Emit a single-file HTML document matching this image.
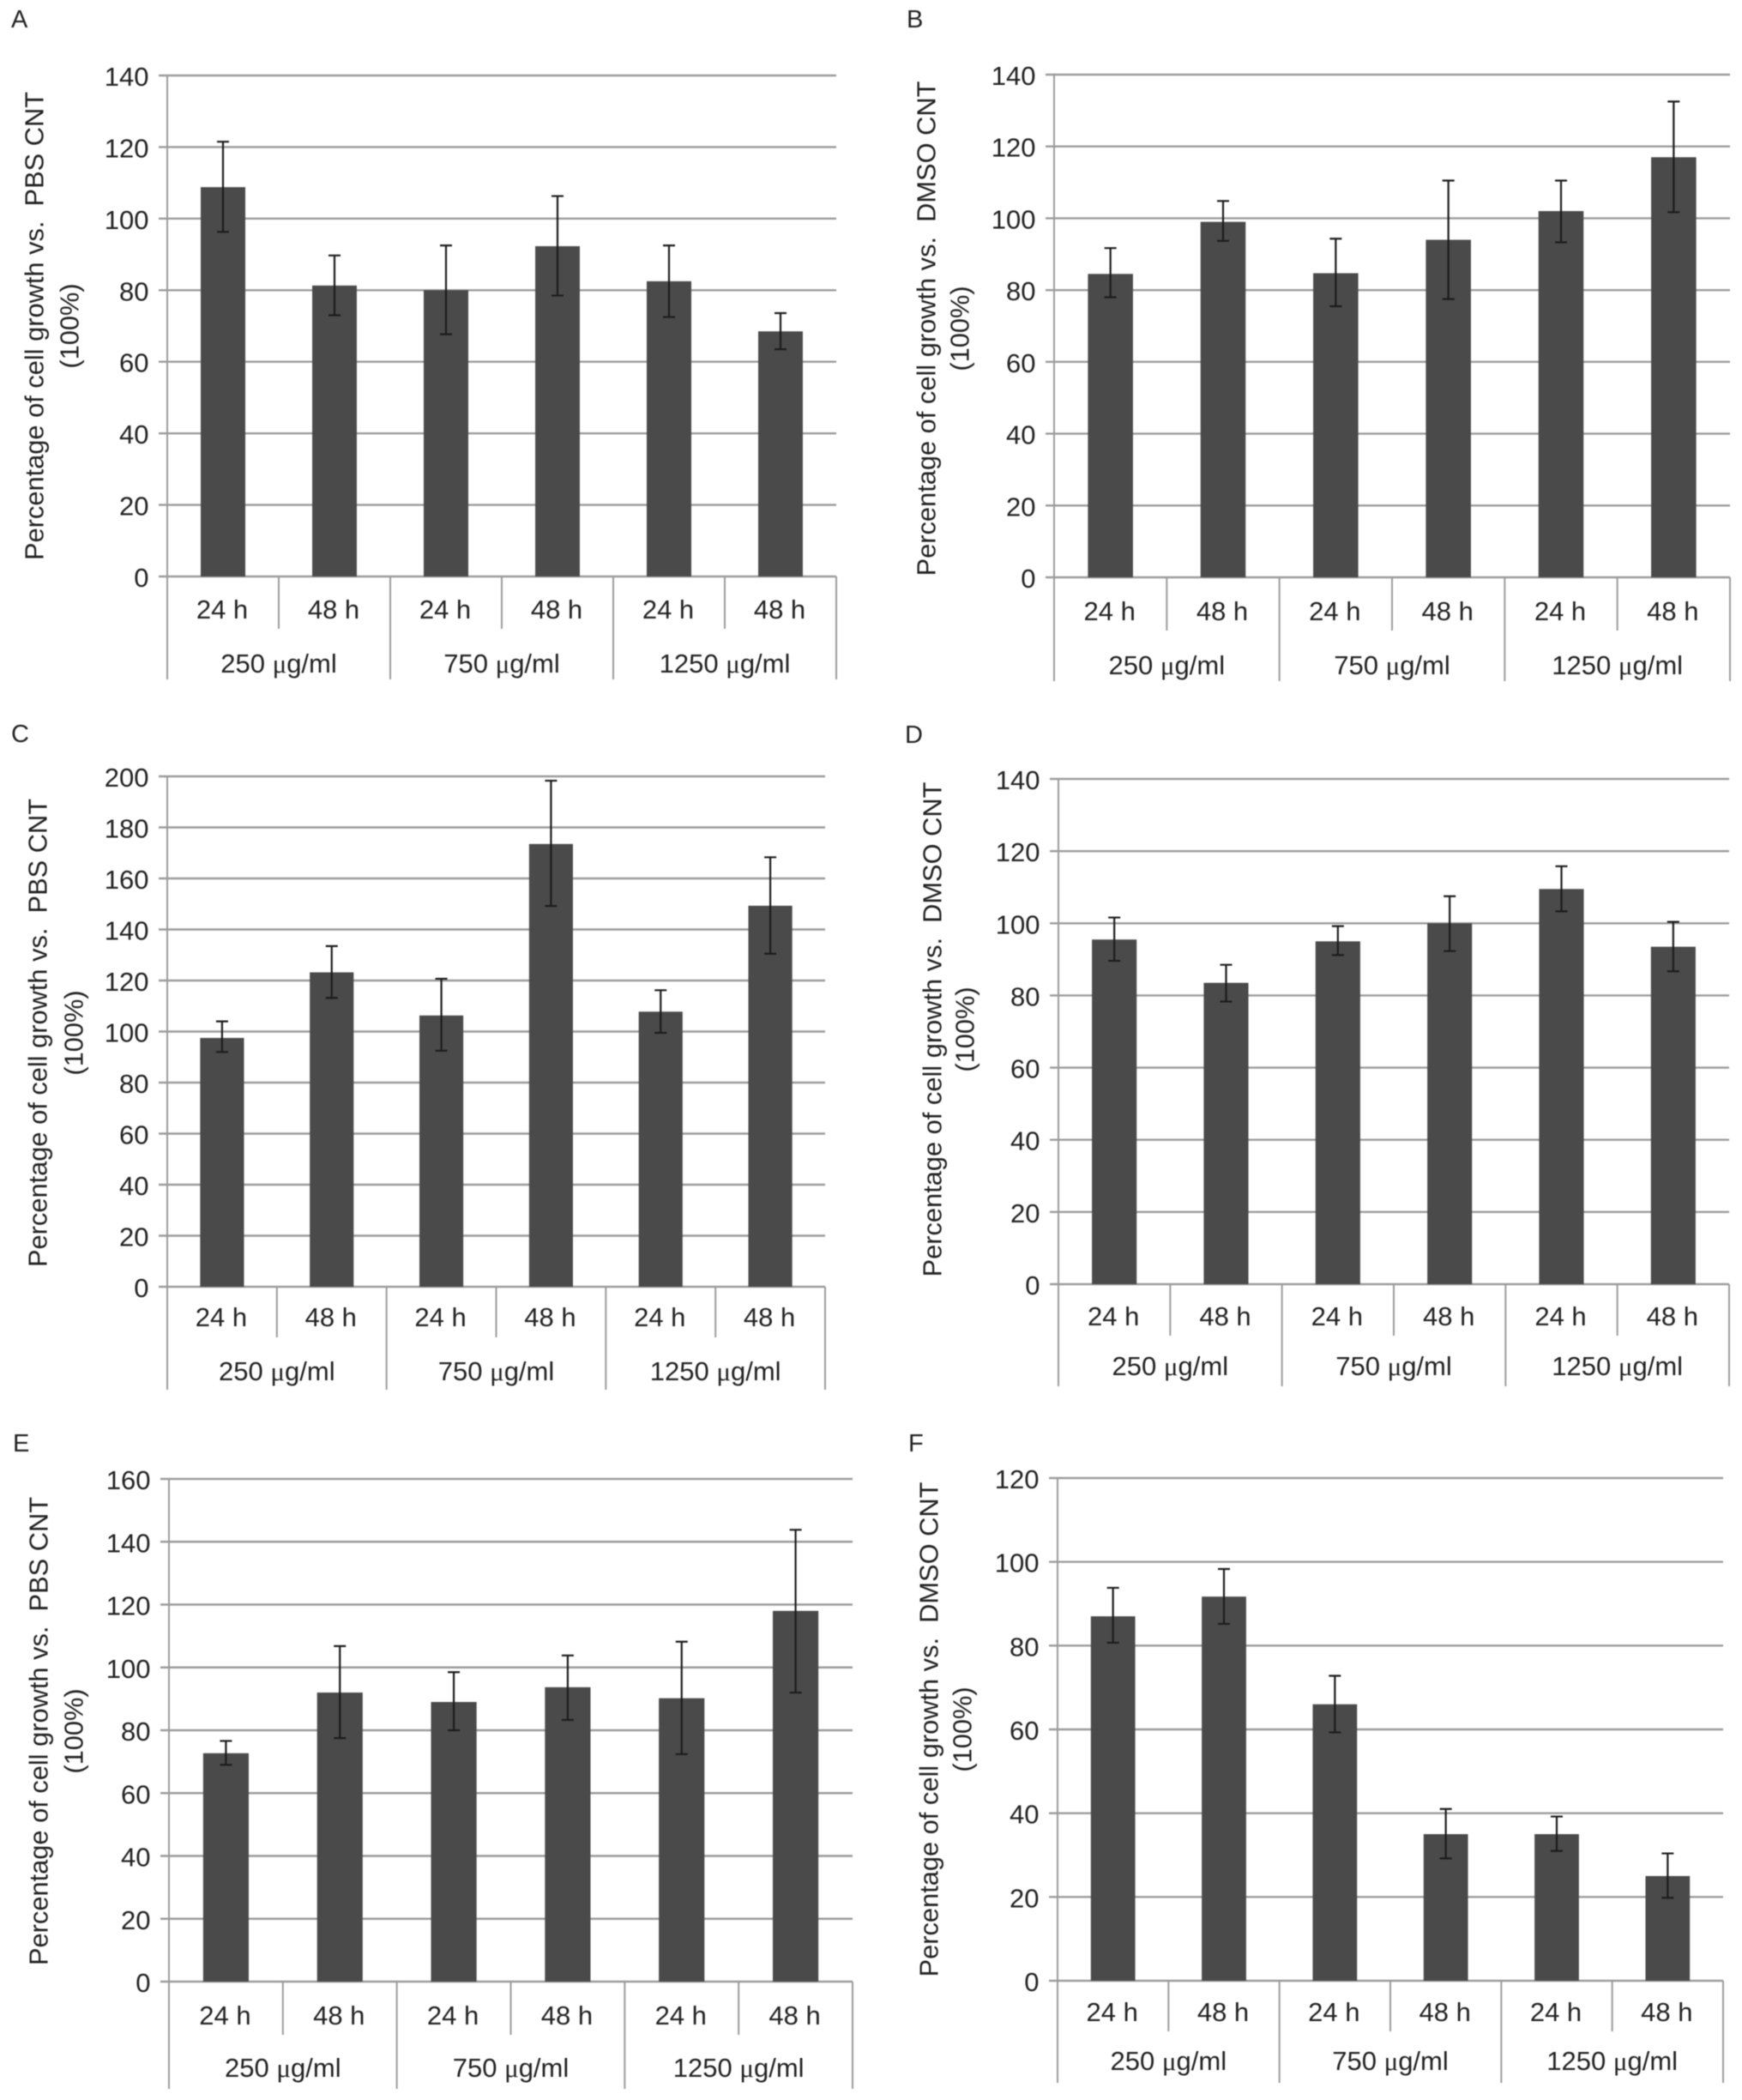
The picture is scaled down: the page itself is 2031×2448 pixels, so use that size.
<!DOCTYPE html>
<html lang="en">
<head>
<meta charset="utf-8">
<title>Cell growth bar charts, panels A to F</title>
<style>
html,body{margin:0;padding:0;background:#fff;}
svg{display:block;filter:blur(0.6px);}
text{font-family:"Liberation Sans",sans-serif;fill:#222222;}
</style>
</head>
<body>
<svg id="figure" xmlns="http://www.w3.org/2000/svg" width="2031" height="2448" viewBox="0 0 2031 2448">
<rect x="0" y="0" width="2031" height="2448" fill="#ffffff"/>
</svg>
<script>
const timeLabels = ['24 h', '48 h', '24 h', '48 h', '24 h', '48 h'];
const doseLabels = ['250 ', '750 ', '1250 '];

const ticksA = [0, 20, 40, 60, 80, 100, 120, 140];
const valuesA = [108.8, 81.3, 80, 92.3, 82.5, 68.5];
const upperA = [121.5, 89.7, 92.5, 106.3, 92.5, 73.6];
const lowerA = [96.3, 73, 67.7, 78.5, 72.5, 63.5];

const ticksB = [0, 20, 40, 60, 80, 100, 120, 140];
const valuesB = [84.5, 99, 84.7, 94, 102, 117];
const upperB = [91.7, 104.8, 94.3, 110.5, 110.5, 132.5];
const lowerB = [78, 93.7, 75.5, 77.5, 93.3, 101.7];

const ticksC = [0, 20, 40, 60, 80, 100, 120, 140, 160, 180, 200];
const valuesC = [97.5, 123.2, 106.3, 173.5, 107.8, 149.3];
const upperC = [104, 133.5, 120.7, 198.3, 116.2, 168.3];
const lowerC = [92, 113.2, 92.5, 149.2, 99.5, 130.5];

const ticksD = [0, 20, 40, 60, 80, 100, 120, 140];
const valuesD = [95.5, 83.5, 95, 100, 109.5, 93.5];
const upperD = [101.6, 88.5, 99.2, 107.5, 115.8, 100.4];
const lowerD = [89.6, 78.3, 91.2, 92.3, 103.3, 86.7];

const ticksE = [0, 20, 40, 60, 80, 100, 120, 140, 160];
const valuesE = [72.7, 92, 89, 93.7, 90.2, 118];
const upperE = [76.6, 106.8, 98.5, 103.8, 108.2, 143.8];
const lowerE = [69, 77.5, 80, 83.3, 72.4, 92];

const ticksF = [0, 20, 40, 60, 80, 100, 120];
const valuesF = [87, 91.7, 66, 35, 35, 25];
const upperF = [93.8, 98.3, 72.8, 41, 39.2, 30.4];
const lowerF = [80.7, 85.2, 59.3, 29.2, 31, 19.8];

const titlePBS = 'Percentage of cell growth vs.\u00a0 PBS CNT';
const titleDMSO = 'Percentage of cell growth vs.\u00a0 DMSO CNT';
const titleUnit = '(100%)';

const panels = [
  {id:'a', label:'A', ticks:ticksA, values:valuesA, upper:upperA, lower:lowerA, title:titlePBS,
   frame:{left:195,right:975,top:88,bottom:672,inner:733,outer:792,timeY:721,doseY:784,t1:40,t2:81,tc:380,lx:13,ly:32}},
  {id:'b', label:'B', ticks:ticksB, values:valuesB, upper:upperB, lower:lowerB, title:titleDMSO,
   frame:{left:1229,right:2017,top:87,bottom:673,inner:735,outer:794,timeY:723,doseY:786,t1:1080,t2:1119,tc:383,lx:1057,ly:32}},
  {id:'c', label:'C', ticks:ticksC, values:valuesC, upper:upperC, lower:lowerC, title:titlePBS,
   frame:{left:195,right:962,top:905,bottom:1500,inner:1559,outer:1620,timeY:1546,doseY:1609,t1:44,t2:86,tc:1204,lx:13,ly:865}},
  {id:'d', label:'D', ticks:ticksD, values:valuesD, upper:upperD, lower:lowerD, title:titleDMSO,
   frame:{left:1234,right:2016,top:908,bottom:1497,inner:1557,outer:1616,timeY:1545,doseY:1603,t1:1087,t2:1125,tc:1200,lx:1055,ly:866}},
  {id:'e', label:'E', ticks:ticksE, values:valuesE, upper:upperE, lower:lowerE, title:titlePBS,
   frame:{left:197,right:994,top:1724,bottom:2310,inner:2372,outer:2435,timeY:2360,doseY:2421,t1:45,t2:86,tc:2018,lx:15,ly:1692}},
  {id:'f', label:'F', ticks:ticksF, values:valuesF, upper:upperF, lower:lowerF, title:titleDMSO,
   frame:{left:1233,right:2009,top:1723,bottom:2309,inner:2368,outer:2428,timeY:2356,doseY:2413,t1:1083,t2:1122,tc:2016,lx:1059,ly:1692}}
];

const NS = 'http://www.w3.org/2000/svg';
const figure = document.getElementById('figure');

function make(tag, parent, attrs, text) {
  const el = document.createElementNS(NS, tag);
  for (const k in attrs) el.setAttribute(k, attrs[k]);
  if (text !== undefined) el.textContent = text;
  parent.appendChild(el);
  return el;
}

function drawPanel(p) {
  const f = p.frame;
  const maxTick = p.ticks[p.ticks.length - 1];
  const yScale = v => f.bottom - (v / maxTick) * (f.bottom - f.top);
  const catWidth = (f.right - f.left) / p.values.length;
  const xScale = i => f.left + catWidth * (i + 0.5);
  const barWidth = catWidth * 0.4;

  const g = make('g', figure, {});
  
  

  const letter = make('text', g, {x:f.lx, y:f.ly, 'font-size':29}, p.label);
  
  

  p.ticks.forEach(t => {
    const y = yScale(t);
    const line = make('line', g, {x1:f.left - 10, x2:f.right, y1:y, y2:y, stroke:'#9b9b9b', 'stroke-width':2.4});
    
    
    const label = make('text', g, {x:f.left - 21.5, y:y + 12, 'font-size':31, 'text-anchor':'end'}, String(t));
    
    
  });

  const axis = make('line', g, {x1:f.left, x2:f.left, y1:f.top, y2:f.outer, stroke:'#9b9b9b', 'stroke-width':2});
  
  

  p.values.forEach((v, i) => {
    const divider = make('line', g, {
      x1:f.left + catWidth * (i + 1), x2:f.left + catWidth * (i + 1),
      y1:f.bottom,
      y2:(i % 2 === 1) ? f.outer : f.inner,
      stroke:'#9b9b9b', 'stroke-width':2
    });
    
    

    const bar = make('rect', g, {x:xScale(i) - barWidth / 2, y:yScale(v), width:barWidth, height:f.bottom - yScale(v), fill:'#4a4a4a'});
    
    

    const err = make('path', g, {
      d:'M' + (xScale(i) - 7) + ' ' + yScale(p.upper[i]) + 'H' + (xScale(i) + 7) +
        'M' + xScale(i) + ' ' + yScale(p.upper[i]) + 'V' + yScale(p.lower[i]) +
        'M' + (xScale(i) - 7) + ' ' + yScale(p.lower[i]) + 'H' + (xScale(i) + 7),
      stroke:'#1c1c1c', 'stroke-width':2.2, fill:'none'
    });
    
    

    const time = make('text', g, {x:xScale(i) - 1, y:f.timeY, 'font-size':31, 'text-anchor':'middle'}, timeLabels[i]);
    
    
  });

  doseLabels.forEach((d, i) => {
    const dose = make('text', g, {x:f.left + catWidth * (2 * i + 1), y:f.doseY, 'font-size':31, 'text-anchor':'middle'}, d);
    
    
    make('tspan', dose, {'font-family':'"Liberation Serif",serif'}, '\u03bc');
    make('tspan', dose, {}, 'g/ml');
  });

  const t1 = make('text', g, {x:f.t1, y:f.tc, 'font-size':30.8, 'text-anchor':'middle', 'dominant-baseline':'central', transform:'rotate(-90 ' + f.t1 + ' ' + f.tc + ')'}, p.title);
  
  
  const t2 = make('text', g, {x:f.t2, y:f.tc, 'font-size':30.8, 'text-anchor':'middle', 'dominant-baseline':'central', transform:'rotate(-90 ' + f.t2 + ' ' + f.tc + ')'}, titleUnit);
  
  
}

panels.forEach(drawPanel);
</script>
</body>
</html>
